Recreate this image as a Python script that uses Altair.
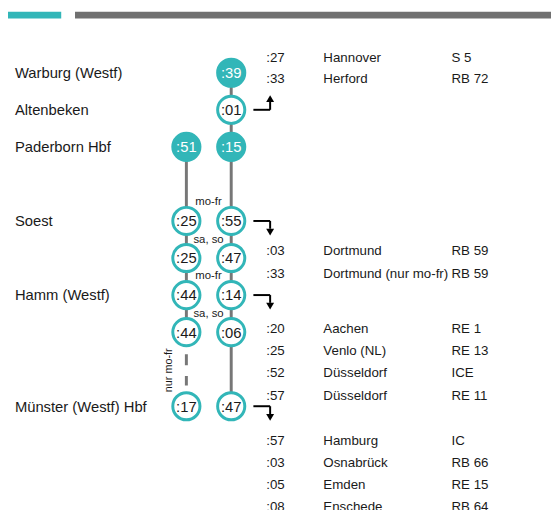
import altair as alt
import pandas as pd

# ---------------- data ----------------
stations = ["Warburg (Westf)", "Altenbeken", "Paderborn Hbf", "Soest",
            "Hamm (Westf)", "Münster (Westf) Hbf"]
station_rows = [0, 1, 2, 4, 6, 9]

# left column: trains starting in Paderborn
col1_times = [":51", ":25", ":25", ":44", ":44", ":17"]
col1_rows = [2, 4, 5, 6, 7, 9]
col1_filled = [True, False, False, False, False, False]
# right column: trains coming from Warburg
col2_times = [":39", ":01", ":15", ":55", ":47", ":14", ":06", ":47"]
col2_rows = [0, 1, 2, 4, 5, 6, 7, 9]
col2_filled = [True, False, True, False, False, False, False, False]

day_notes = ["mo-fr", "sa, so", "mo-fr", "sa, so"]
day_note_rows = [3.48, 4.52, 5.5, 6.52]

conn_times = [":27", ":33", ":03", ":33", ":20", ":25", ":52", ":57",
              ":57", ":03", ":05", ":08"]
conn_dest = ["Hannover", "Herford", "Dortmund", "Dortmund (nur mo-fr)",
             "Aachen", "Venlo (NL)", "Düsseldorf", "Düsseldorf",
             "Hamburg", "Osnabrück", "Emden", "Enschede"]
conn_lines = ["S 5", "RB 72", "RB 59", "RB 59", "RE 1", "RE 13", "ICE",
              "RE 11", "IC", "RB 66", "RE 15", "RB 64"]
conn_rows = [-0.41, 0.17, 4.81, 5.41, 6.91, 7.5, 8.09, 8.7,
             9.92, 10.52, 11.12, 11.72]

arrow_rows = [1, 4, 6, 9]
arrow_dirs = [-1, 1, 1, 1]   # -1 = up, 1 = down

# ---------------- layout / style ----------------
X_LABEL, X_COL1, X_COL2 = 15, 189, 234.5
X_ARR0, X_ARR1 = 257, 274
X_TIME, X_DEST, X_LINE = 270, 328, 458
X_NOTE, X_NUR = 211.5, 171
TEAL = "#32b6b8"
GRAY = "#777777"
INK = "#1a1a1a"
FONT = "Liberation Sans, Arial, sans-serif"

xs = alt.Scale(domain=[8, 559], range=[0, 551])
ys = alt.Scale(domain=[(8 - 70) / 37.6, (510 - 70) / 37.6], range=[0, 502])


def X(f="x"):
    return alt.X(f"{f}:Q", scale=xs, axis=None)


def Y(f="y"):
    return alt.Y(f"{f}:Q", scale=ys, axis=None)


# header bar (decoration)
hdr = pd.DataFrame({"k": [0]})
bar_teal = alt.Chart(hdr).mark_rect(color=TEAL).encode(
    x=alt.value(0), x2=alt.value(54), y=alt.value(0), y2=alt.value(7))
bar_gray = alt.Chart(hdr).mark_rect(color="#707070").encode(
    x=alt.value(68), x2=alt.value(551), y=alt.value(0), y2=alt.value(7))

# track lines
tracks = pd.DataFrame({
    "x": [X_COL1, X_COL2],
    "y": [col1_rows[0], col2_rows[0]],
    "y2": [col1_rows[4], col2_rows[-1]],
})
track_rules = alt.Chart(tracks).mark_rule(color=GRAY, strokeWidth=3).encode(
    x=X(), y=Y(), y2="y2:Q")
dashed = pd.DataFrame({"x": [X_COL1], "y": [7.6], "y2": [8.44]})
dashed_rule = alt.Chart(dashed).mark_rule(
    color=GRAY, strokeWidth=3, strokeDash=[11, 11]).encode(
    x=X(), y=Y(), y2="y2:Q")

# nodes
nodes = pd.DataFrame({
    "x": [X_COL1] * len(col1_rows) + [X_COL2] * len(col2_rows),
    "y": col1_rows + col2_rows,
    "t": col1_times + col2_times,
    "filled": col1_filled + col2_filled,
})
circles = alt.Chart(nodes).mark_point(
    shape="circle", filled=True, size=760, stroke=TEAL, strokeWidth=3,
    opacity=1).encode(
    x=X(), y=Y(),
    fill=alt.condition("datum.filled", alt.value(TEAL), alt.value("white")))
node_text = alt.Chart(nodes).mark_text(
    font=FONT, fontSize=15, baseline="middle", align="center", dy=0.5).encode(
    x=X(), y=Y(), text="t:N",
    color=alt.condition("datum.filled", alt.value("white"), alt.value(INK)))

# station labels
st = pd.DataFrame({"x": [X_LABEL] * len(stations), "y": station_rows,
                   "s": stations})
st_text = alt.Chart(st).mark_text(
    font=FONT, fontSize=15, align="left", baseline="middle", color=INK,
    dy=0.5).encode(x=X(), y=Y(), text="s:N")

# day notes
dn = pd.DataFrame({"x": [X_NOTE] * len(day_notes), "y": day_note_rows,
                   "s": day_notes})
dn_text = alt.Chart(dn).mark_text(
    font=FONT, fontSize=11.5, align="center", baseline="middle",
    color=INK).encode(x=X(), y=Y(), text="s:N")
nur = pd.DataFrame({"x": [X_NUR], "y": [8.03], "s": ["nur mo-fr"]})
nur_text = alt.Chart(nur).mark_text(
    font=FONT, fontSize=11, align="center", baseline="middle", angle=270,
    color=INK).encode(x=X(), y=Y(), text="s:N")

# connection arrows
arr = pd.DataFrame({"x": [X_ARR0] * 4, "x2": [X_ARR1] * 4, "y": arrow_rows,
                    "d": arrow_dirs})
arr["yb"] = arr["y"] + arr["d"] * 0.21
arr["ytip"] = arr["y"] + arr["d"] * 0.30
arr["shape"] = ["triangle-up" if d < 0 else "triangle-down" for d in arrow_dirs]
arr_h = alt.Chart(arr).mark_rule(color="black", strokeWidth=2).encode(
    x=X(), x2="x2:Q", y=Y())
arr_v = alt.Chart(arr).mark_rule(color="black", strokeWidth=2).encode(
    x=X("x2"), y=Y(), y2="yb:Q")
arr_head = alt.Chart(arr).mark_point(filled=True, color="black", size=64,
                                     opacity=1).encode(
    x=X("x2"), y=Y("ytip"), shape=alt.Shape("shape:N", scale=None))

# connections table
tb = pd.DataFrame({"y": conn_rows, "t": conn_times, "d": conn_dest,
                   "l": conn_lines})
tb["xt"], tb["xd"], tb["xl"] = X_TIME, X_DEST, X_LINE
base_tb = alt.Chart(tb).mark_text(font=FONT, fontSize=13.5, align="left",
                                  baseline="middle", color=INK, dy=0.5)
tb_t = base_tb.encode(x=X("xt"), y=Y(), text="t:N")
tb_d = base_tb.encode(x=X("xd"), y=Y(), text="d:N")
tb_l = base_tb.encode(x=X("xl"), y=Y(), text="l:N")

chart = alt.layer(
    bar_teal, bar_gray, track_rules, dashed_rule, circles, node_text,
    st_text, dn_text, nur_text, arr_h, arr_v, arr_head, tb_t, tb_d, tb_l
).properties(
    width=551, height=502, padding=0,
    autosize=alt.AutoSizeParams(type="none")
).configure_view(stroke=None)

chart.save("out.html", embed_options={"renderer": "svg", "actions": False})
